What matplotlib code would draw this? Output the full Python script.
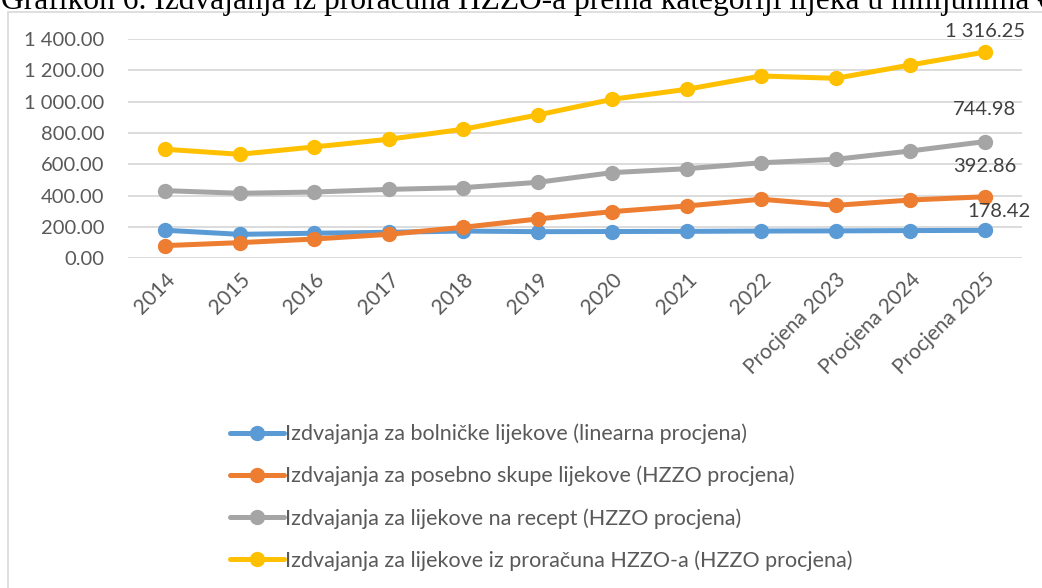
import matplotlib.pyplot as plt
from matplotlib.patches import Rectangle

# Categories and series (millions EUR)
years = ["2014", "2015", "2016", "2017", "2018", "2019", "2020", "2021", "2022",
         "Procjena 2023", "Procjena 2024", "Procjena 2025"]
bolnicki = [179, 153, 160, 166, 174, 170, 171, 172, 174, 175, 177, 178.42]
posebno_skupi = [81, 100, 123, 153, 198, 251, 298, 334, 377, 338, 372, 392.86]
na_recept = [432, 415, 423, 440, 451, 485, 547, 572, 610, 632, 685, 744.98]
ukupno = [696, 664, 711, 760, 824, 915, 1015, 1079, 1164, 1149, 1234, 1316.25]

series_names = [
    "Izdvajanja za bolničke lijekove (linearna procjena)",
    "Izdvajanja za posebno skupe lijekove (HZZO procjena)",
    "Izdvajanja za lijekove na recept (HZZO procjena)",
    "Izdvajanja za lijekove iz proračuna HZZO-a (HZZO procjena)",
]
colors = ["#5B9BD5", "#ED7D31", "#A5A5A5", "#FFC000"]
y_ticks = [0, 200, 400, 600, 800, 1000, 1200, 1400]

title = "Grafikon 6. Izdvajanja iz proračuna HZZO-a prema kategoriji lijeka u milijunima €"

plt.rcParams['font.family'] = ['Lato', 'DejaVu Sans']
text_col = "#595959"

W, H = 1042, 588
fig = plt.figure(figsize=(W / 100, H / 100), dpi=100)

# chart frame (cut off at the right and bottom edges)
fig.patches.append(Rectangle((8 / W, -0.1), 1.1, (H - 12) / H + 0.1,
                             transform=fig.transFigure, fill=False,
                             edgecolor="#D9D9D9", linewidth=1.2, zorder=0))

fig.text(1 / W, 1 - 9 / H, title, family="Liberation Serif", fontsize=22.7,
         ha="left", va="baseline", color="black", zorder=5)

ax = fig.add_axes([128 / W, 1 - 258.3 / H, (1022 - 128) / W, (258.3 - 39) / H])

x = list(range(len(years)))
all_series = [bolnicki, posebno_skupi, na_recept, ukupno]
for vals, name, c in zip(all_series, series_names, colors):
    ax.plot(x, vals, color=c, linewidth=3.6, marker="o", markersize=10,
            label=name, solid_capstyle="round")

# end-point value labels
offsets = [(10, 13.7), (0, 21.8), (0, 22.8), (0, 15)]
for vals, off in zip(all_series, offsets):
    v = vals[-1]
    lab = f"{v:,.2f}".replace(",", " ")
    ax.annotate(lab, (x[-1], v), xytext=off, textcoords="offset points",
                ha="center", va="center", fontsize=14.5, color="#404040")

ax.set_xlim(-0.5, len(years) - 0.5)
ax.set_ylim(0, 1400)
ax.set_yticks(y_ticks)
ax.set_yticklabels([f"{t:,.2f}".replace(",", " ") for t in y_ticks])
ax.set_xticks(x)
ax.set_xticklabels(years, rotation=45, ha="right", rotation_mode="anchor")
ax.tick_params(axis="both", length=0, colors=text_col)
ax.tick_params(axis="y", labelsize=14.5, pad=17)
ax.tick_params(axis="x", labelsize=15, pad=8)
ax.grid(axis="y", color="#D9D9D9", linewidth=1.3)
ax.set_axisbelow(True)
for s in ax.spines.values():
    s.set_visible(False)

fig.legend(loc="upper left", bbox_to_anchor=(219 / W, 1 - 413 / H),
           frameon=False, fontsize=15.5, handlelength=2.5, handletextpad=0.05,
           labelspacing=1.0, labelcolor=text_col, borderpad=0)

fig.savefig("out.png", dpi=100)
